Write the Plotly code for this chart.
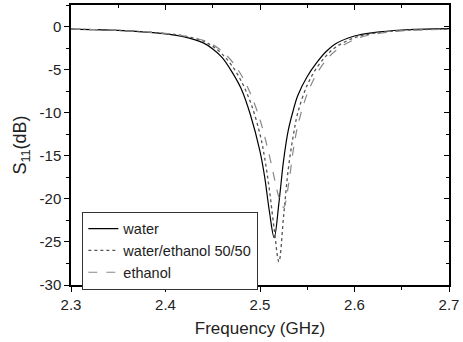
import plotly.graph_objects as go

freq = [2.30, 2.35, 2.40, 2.42, 2.44, 2.45, 2.46, 2.47, 2.48, 2.49, 2.50, 2.505,
        2.51, 2.515, 2.52, 2.525, 2.53, 2.535, 2.54, 2.55, 2.56, 2.57, 2.58, 2.60,
        2.62, 2.65, 2.70]
water = [-0.3, -0.45, -0.85, -1.2, -1.9, -2.6, -3.6, -5.2, -7.2, -10.3, -14.5, -17.5,
         -21.5, -24.5, -20.5, -15.5, -12.0, -9.8, -8.0, -5.8, -4.2, -2.9, -2.0, -1.1,
         -0.7, -0.4, -0.25]
mix = [-0.3, -0.45, -0.8, -1.1, -1.7, -2.3, -3.2, -4.5, -6.3, -8.8, -12.5, -15.3,
       -19.0, -23.5, -27.3, -22.0, -16.5, -12.8, -10.0, -6.8, -4.8, -3.4, -2.4, -1.3,
       -0.8, -0.45, -0.3]
ethanol = [-0.3, -0.45, -0.8, -1.1, -1.6, -2.1, -2.9, -4.0, -5.6, -7.8, -10.8, -12.8,
           -15.0, -17.5, -19.8, -21.0, -18.5, -14.5, -11.5, -7.8, -5.5, -3.9, -2.8, -1.5,
           -0.9, -0.5, -0.3]
names = ["water", "water/ethanol 50/50", "ethanol"]
y_ticks = [0, -5, -10, -15, -20, -25, -30]
y_ticktext = ["0", "-5", "-10", "-15", "-20", "-25", "-30"]
x_ticks = [2.3, 2.4, 2.5, 2.6, 2.7]
x_ticktext = ["2.3", "2.4", "2.5", "2.6", "2.7"]

fig = go.Figure()
fig.add_trace(go.Scatter(x=freq, y=water, name=names[0], mode="lines",
                         line=dict(color="black", width=1.2, dash="solid", shape="spline")))
fig.add_trace(go.Scatter(x=freq, y=mix, name=names[1], mode="lines",
                         line=dict(color="#555555", width=1.3, dash="dot", shape="spline")))
fig.add_trace(go.Scatter(x=freq, y=ethanol, name=names[2], mode="lines",
                         line=dict(color="#888888", width=1.2, dash="dash", shape="spline")))
# helper trace for mirrored inward ticks
fig.add_trace(go.Scatter(x=[None], y=[None], xaxis="x2", yaxis="y2", showlegend=False,
                         hoverinfo="skip"))

font = dict(family="Liberation Sans, Arial", size=14, color="#222222")
fig.update_layout(
    width=463, height=342,
    margin=dict(l=71, r=14, t=5, b=57),
    paper_bgcolor="white", plot_bgcolor="white",
    font=font,
    showlegend=True,
    legend=dict(x=0.03, y=0.262, xanchor="left", yanchor="top",
                bordercolor="#333333", borderwidth=1, bgcolor="white",
                font=dict(family="Liberation Sans, Arial", size=14.5, color="#222222"),
                tracegroupgap=0, itemwidth=30),
    xaxis=dict(range=[2.3, 2.7], tickvals=x_ticks, ticktext=x_ticktext,
               ticks="outside", ticklen=5,
               tickcolor="black", showline=True, linecolor="black", linewidth=1.5,
               showgrid=False, zeroline=False, tickfont=dict(size=15),
               minor=dict(dtick=0.05, tick0=2.3, ticks="outside", ticklen=3, tickcolor="black"),
               title=dict(text="Frequency (GHz)", font=dict(size=17), standoff=10)),
    yaxis=dict(range=[-30, 2.5], tickvals=y_ticks, ticktext=y_ticktext,
               ticks="outside", ticklen=5,
               tickcolor="black", showline=True, linecolor="black", linewidth=1.5,
               showgrid=False, zeroline=False, tickfont=dict(size=15),
               minor=dict(dtick=2.5, tick0=0, ticks="outside", ticklen=3, tickcolor="black"),
               title=dict(text="S<sub>11</sub>(dB)", font=dict(size=18), standoff=8)),
    xaxis2=dict(range=[2.3, 2.7], dtick=0.1, tick0=2.3, overlaying="x", side="top",
                ticks="inside", ticklen=5, tickcolor="black", showticklabels=False,
                showline=True, linecolor="black", linewidth=1.5, showgrid=False,
                zeroline=False,
                minor=dict(dtick=0.05, ticks="inside", ticklen=3, tickcolor="black")),
    yaxis2=dict(range=[-30, 2.5], dtick=5, tick0=0, overlaying="y", side="right",
                ticks="inside", ticklen=5, tickcolor="black", showticklabels=False,
                showline=True, linecolor="black", linewidth=1.5, showgrid=False,
                zeroline=False,
                minor=dict(dtick=2.5, ticks="inside", ticklen=3, tickcolor="black")),
)

fig.write_html("out.html")
